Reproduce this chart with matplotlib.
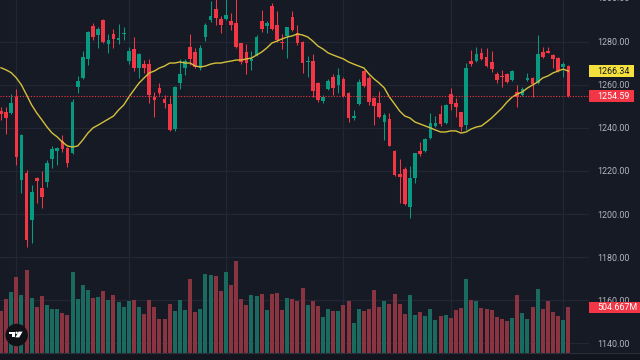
import matplotlib
matplotlib.use('Agg')
import matplotlib.pyplot as plt
from matplotlib.patches import Rectangle, Circle, Polygon
from matplotlib.transforms import blended_transform_factory, Affine2D
import numpy as np

opens = [
    1248.0, 1247.4, 1246.9, 1254.3, 1215.8, 1219.0, 1197.2, 1216.7, 1212.1, 1214.9,
    1225.5, 1229.3, 1233.9, 1230.7, 1228.3, 1259.0, 1263.2, 1272.0, 1287.3, 1283.1,
    1290.1, 1278.9, 1283.6, 1280.8, 1283.6, 1271.0, 1276.6, 1267.8, 1269.6, 1269.6,
    1254.3, 1258.5, 1253.4, 1251.1, 1239.5, 1260.8, 1267.8, 1277.5, 1275.2, 1267.8,
    1282.2, 1290.1, 1295.2, 1290.5, 1290.5, 1289.6, 1288.7, 1279.4, 1275.2, 1271.0,
    1273.8, 1289.6, 1287.3, 1296.6, 1287.8, 1279.9, 1282.7, 1291.5, 1284.0, 1279.9,
    1270.6, 1271.0, 1260.8, 1252.5, 1258.0, 1263.6, 1259.9, 1262.7, 1256.2, 1244.6,
    1251.1, 1266.4, 1263.2, 1253.9, 1251.5, 1242.7, 1244.1, 1229.3, 1218.6, 1220.9,
    1203.3, 1216.7, 1229.3, 1229.3, 1235.3, 1240.9, 1246.4, 1242.3, 1255.7, 1251.5,
    1247.4, 1241.3, 1271.0, 1271.0, 1274.8, 1272.9, 1270.6, 1265.0, 1264.1, 1265.0,
    1262.2, 1256.7, 1255.3, 1262.2, 1263.2, 1260.8, 1275.2, 1275.7, 1273.8, 1272.4,
    1268.3, 1268.7]

closes = [
    1246.4, 1244.6, 1251.5, 1226.5, 1236.7, 1187.9, 1210.2, 1215.3, 1207.9, 1223.7,
    1230.2, 1230.7, 1230.2, 1223.7, 1252.0, 1261.8, 1272.9, 1284.5, 1282.2, 1285.9,
    1279.9, 1280.8, 1281.3, 1281.7, 1284.0, 1275.7, 1267.8, 1274.3, 1267.8, 1255.3,
    1253.0, 1256.2, 1251.5, 1239.0, 1259.0, 1265.0, 1271.0, 1272.0, 1268.3, 1277.1,
    1287.8, 1292.0, 1291.0, 1287.8, 1292.4, 1287.8, 1277.5, 1270.6, 1270.1, 1272.0,
    1282.2, 1285.9, 1288.7, 1285.9, 1280.8, 1279.4, 1286.8, 1285.4, 1279.4, 1270.1,
    1271.0, 1257.1, 1253.0, 1254.3, 1261.8, 1258.5, 1264.5, 1254.8, 1244.6, 1245.5,
    1261.3, 1259.4, 1252.0, 1250.2, 1245.0, 1246.0, 1231.6, 1218.1, 1217.2, 1204.7,
    1216.7, 1228.3, 1227.9, 1234.8, 1242.3, 1242.3, 1241.8, 1250.6, 1251.1, 1249.7,
    1240.4, 1267.8, 1269.6, 1274.3, 1272.0, 1268.7, 1267.3, 1262.2, 1263.6, 1261.3,
    1266.4, 1254.3, 1258.0, 1263.2, 1260.4, 1274.3, 1272.9, 1274.8, 1272.0, 1266.4,
    1269.6, 1254.59]

highs = [
    1249.7, 1249.7, 1255.7, 1258.0, 1237.0, 1220.4, 1213.5, 1217.2, 1220.0, 1225.1,
    1231.6, 1231.1, 1236.7, 1231.0, 1253.4, 1264.1, 1275.7, 1284.8, 1288.7, 1286.8,
    1290.5, 1283.6, 1285.9, 1288.2, 1286.8, 1277.5, 1282.2, 1274.8, 1271.5, 1272.0,
    1256.7, 1260.8, 1255.3, 1254.3, 1259.4, 1272.0, 1272.0, 1283.6, 1277.1, 1278.5,
    1288.7, 1298.9, 1300.5, 1292.0, 1300.5, 1293.3, 1300.5, 1279.6, 1278.9, 1275.7,
    1283.1, 1294.7, 1289.6, 1298.0, 1294.3, 1283.6, 1287.0, 1294.3, 1287.8, 1280.3,
    1273.4, 1274.3, 1261.3, 1255.3, 1262.7, 1265.0, 1267.8, 1263.6, 1256.7, 1248.3,
    1262.7, 1266.9, 1264.1, 1254.3, 1257.1, 1246.9, 1246.9, 1229.7, 1225.5, 1221.8,
    1222.3, 1228.5, 1233.4, 1235.3, 1246.9, 1245.5, 1250.6, 1251.1, 1258.5, 1253.9,
    1247.6, 1270.1, 1276.2, 1277.5, 1277.1, 1277.1, 1275.7, 1266.0, 1266.9, 1265.5,
    1266.9, 1259.9, 1259.0, 1265.5, 1263.6, 1283.1, 1277.5, 1277.5, 1274.3, 1272.9,
    1270.6, 1269.2]

lows = [
    1243.7, 1237.2, 1246.5, 1222.8, 1209.8, 1184.7, 1186.6, 1205.1, 1202.8, 1212.6,
    1221.4, 1222.8, 1228.8, 1221.8, 1227.9, 1256.2, 1262.9, 1269.2, 1280.8, 1277.1,
    1279.4, 1274.8, 1277.1, 1278.9, 1280.8, 1269.6, 1266.4, 1263.2, 1265.5, 1251.5,
    1245.0, 1255.3, 1249.2, 1238.6, 1238.6, 1258.0, 1264.5, 1269.2, 1267.8, 1266.9,
    1280.3, 1289.2, 1287.8, 1284.0, 1290.1, 1285.4, 1277.1, 1269.6, 1265.0, 1266.9,
    1273.4, 1284.5, 1284.0, 1285.4, 1279.9, 1276.6, 1272.4, 1285.0, 1278.5, 1265.5,
    1263.6, 1254.3, 1252.0, 1251.5, 1257.6, 1255.3, 1256.2, 1254.3, 1242.7, 1243.7,
    1250.6, 1259.0, 1250.6, 1241.3, 1244.6, 1234.4, 1231.4, 1217.7, 1205.1, 1204.2,
    1198.2, 1214.4, 1227.0, 1228.8, 1235.0, 1240.4, 1240.9, 1241.8, 1248.3, 1245.0,
    1238.6, 1239.0, 1268.7, 1270.6, 1271.5, 1268.3, 1266.0, 1260.8, 1259.0, 1260.8,
    1261.8, 1249.7, 1254.8, 1261.8, 1254.3, 1260.4, 1272.4, 1274.6, 1267.8, 1266.0,
    1263.6, 1254.5]

ma_values = [
    1267.9, 1266.9, 1265.6, 1263.2, 1259.9, 1255.3, 1250.6, 1246.9, 1243.7, 1240.4,
    1237.6, 1235.8, 1233.4, 1231.6, 1231.1, 1231.6, 1234.4, 1237.6, 1240.0, 1241.3,
    1242.7, 1244.1, 1245.5, 1248.3, 1250.6, 1254.3, 1257.6, 1260.8, 1263.2, 1265.5,
    1266.4, 1267.8, 1268.7, 1270.1, 1270.1, 1270.6, 1270.1, 1270.1, 1268.7, 1268.3,
    1268.7, 1269.6, 1270.1, 1270.1, 1270.6, 1271.0, 1271.5, 1271.5, 1272.0, 1272.4,
    1273.8, 1275.2, 1277.1, 1279.4, 1280.3, 1281.3, 1282.2, 1282.7, 1283.6, 1283.1,
    1282.2, 1280.3, 1278.0, 1276.6, 1274.8, 1273.8, 1272.9, 1272.0, 1270.6, 1269.6,
    1268.7, 1267.8, 1265.0, 1262.7, 1260.8, 1258.5, 1254.3, 1251.1, 1247.8, 1245.5,
    1244.6, 1242.7, 1241.8, 1240.9, 1240.0, 1239.0, 1238.1, 1238.1, 1238.6, 1238.6,
    1237.6, 1238.1, 1239.5, 1240.4, 1240.9, 1242.7, 1244.6, 1246.9, 1249.2, 1252.0,
    1254.3, 1255.7, 1256.7, 1258.5, 1259.9, 1261.3, 1263.2, 1264.1, 1265.5, 1266.4,
    1267.3, 1266.34]

volumes_m = [
    460, 598, 675, 837, 645, 922, 604, 505, 631, 535,
    483, 483, 443, 424, 896, 598, 756, 701, 604, 623,
    682, 582, 645, 568, 505, 579, 590, 512, 435, 587,
    512, 380, 380, 546, 460, 590, 479, 822, 449, 487,
    878, 867, 855, 682, 896, 748, 1021, 598, 535, 637,
    631, 656, 479, 656, 664, 479, 604, 598, 571, 719,
    527, 579, 516, 398, 487, 468, 468, 527, 579, 332,
    490, 468, 490, 701, 509, 579, 546, 656, 546, 432,
    637, 424, 449, 405, 490, 365, 405, 424, 391, 476,
    501, 822, 590, 579, 498, 490, 479, 394, 376, 357,
    391, 645, 443, 380, 509, 708, 490, 579, 449, 405,
    369, 504.667]

price_ticks = [1140, 1160, 1180, 1200, 1220, 1240, 1260, 1280, 1300]
month_starts = [3, 25, 44, 67, 88, 110]
last_price = 1254.59
last_ma = 1266.34
last_volume = 504.667
last_volume_label = '504.667M'

n = len(closes)
assert all(len(a) == n for a in (opens, highs, lows, ma_values, volumes_m))

BG = '#161A25'
GRID = '#232733'
UP = '#089981'
DOWN = '#F23645'
VOL_UP = '#1A6A60'
VOL_DOWN = '#8A3441'
MA_COL = '#D4C03C'
TXT = '#B2B5BE'
FONT = 'Roboto'

W, H = 640, 360
fig = plt.figure(figsize=(W / 100, H / 100), dpi=100, facecolor=BG)
plot_w, plot_h = 589, 353
pos = [0, (H - plot_h) / H, plot_w / W, plot_h / H]

axg = fig.add_axes(pos)
axv = fig.add_axes(pos)
ax = fig.add_axes(pos)

xlim = (-0.2, 115.04)
ylim = (1135.5, 1299.36)
vmax = 3907
for a in (axg, axv, ax):
    a.set_xlim(*xlim)
    for s in a.spines.values():
        s.set_visible(False)
    a.set_xticks([])
axg.set_ylim(*ylim)
ax.set_ylim(*ylim)
axv.set_ylim(0, vmax)
axv.set_yticks([])
axg.set_yticks([])
axg.set_facecolor(BG)
axv.patch.set_visible(False)
ax.patch.set_visible(False)

# bottom (time axis) strip
fig.add_artist(Rectangle((0, 0), 1, (H - plot_h) / H, transform=fig.transFigure,
                         facecolor='#12151D', edgecolor='none', zorder=0))

# grid
for t in price_ticks:
    axg.axhline(t, color=GRID, lw=0.9, zorder=0)
for m in month_starts:
    axg.axvline(m, color=GRID, lw=0.9, zorder=0)

x = np.arange(n)
o = np.array(opens); c = np.array(closes)
hi = np.array(highs); lo = np.array(lows)
up = c >= o
cols = np.where(up, UP, DOWN)
vcols = np.where(up, VOL_UP, VOL_DOWN)

# volume
axv.bar(x, volumes_m, width=0.78, color=vcols, linewidth=0)

# candles
ax.vlines(x, lo, hi, colors=cols, lw=0.75, zorder=2)
body_h = np.maximum(np.abs(c - o), 0.45)
ax.bar(x, body_h, bottom=np.minimum(o, c), width=0.72, color=cols, linewidth=0, zorder=3)

# moving average
ax.plot(x, ma_values, color=MA_COL, lw=1.0, zorder=4)

# last price dotted line
ax.axhline(last_price, color=DOWN, lw=0.8, linestyle=(0, (1, 1.5)), zorder=5)

# price axis labels
ax.yaxis.tick_right()
ax.set_yticks(price_ticks[:-1])
ax.set_yticklabels([f'{t:.2f}' for t in price_ticks[:-1]])
ax.tick_params(axis='y', length=0, pad=5.8, labelsize=6.4, labelcolor=TXT)
for lab in ax.get_yticklabels():
    lab.set_fontfamily(FONT)
trans_p = blended_transform_factory(ax.transAxes, ax.transData)
tx = 1 + 8 / plot_w
ax.text(tx, price_ticks[-1], f'{price_ticks[-1]:.2f}', transform=trans_p,
        ha='left', va='center', fontsize=6.4, color=TXT, family=FONT, clip_on=False)

# label boxes
px_per_price = plot_h / (ylim[1] - ylim[0])
half = 6.0 / px_per_price
ax.add_patch(Rectangle((1.0, last_ma - half), 45 / plot_w, 2 * half, transform=trans_p,
                       facecolor='#F5E13E', edgecolor='none', clip_on=False, zorder=6))
ax.text(tx, last_ma, f'{last_ma:.2f}', transform=trans_p, ha='left', va='center',
        fontsize=6.4, color='#131722', family=FONT, clip_on=False, zorder=7)
ax.add_patch(Rectangle((1.0, last_price - half), 45 / plot_w, 2 * half, transform=trans_p,
                       facecolor=DOWN, edgecolor='none', clip_on=False, zorder=6))
ax.text(tx, last_price, f'{last_price:.2f}', transform=trans_p, ha='left', va='center',
        fontsize=6.4, color='white', family=FONT, clip_on=False, zorder=7)

trans_v = blended_transform_factory(axv.transAxes, axv.transData)
vhalf = 5.5 * vmax / plot_h
ax.add_patch(Rectangle((1.0, last_volume - vhalf), 52 / plot_w, 2 * vhalf, transform=trans_v,
                       facecolor=DOWN, edgecolor='none', clip_on=False, zorder=8))
ax.text(tx, last_volume, last_volume_label, transform=trans_v, ha='left', va='center',
        fontsize=6.4, color='white', family=FONT, clip_on=False, zorder=9)

# bottom time-axis separator
fig.add_artist(plt.Line2D([0, 1], [(H - plot_h) / H] * 2, transform=fig.transFigure,
                          color='#2A2E39', lw=0.8))

# logo (pixel coordinates from top-left)
pix = Affine2D().scale(1, -1).translate(0, H)
fig.add_artist(Circle((16.7, 335), 11.2, transform=pix, facecolor='#0F1117', edgecolor='none'))
fig.add_artist(Polygon([(9.2, 331.6), (14.8, 331.6), (14.8, 337.4), (12.0, 337.4),
                        (12.0, 334.0), (9.2, 334.0)], closed=True, transform=pix,
                       facecolor='white', edgecolor='none'))
fig.add_artist(Circle((16.6, 332.8), 1.2, transform=pix, facecolor='white', edgecolor='none'))
fig.add_artist(Polygon([(18.6, 331.6), (22.6, 331.6), (19.2, 337.4), (15.4, 337.4)],
                       closed=True, transform=pix, facecolor='white', edgecolor='none'))

fig.savefig('out.png', dpi=100, facecolor=BG)
